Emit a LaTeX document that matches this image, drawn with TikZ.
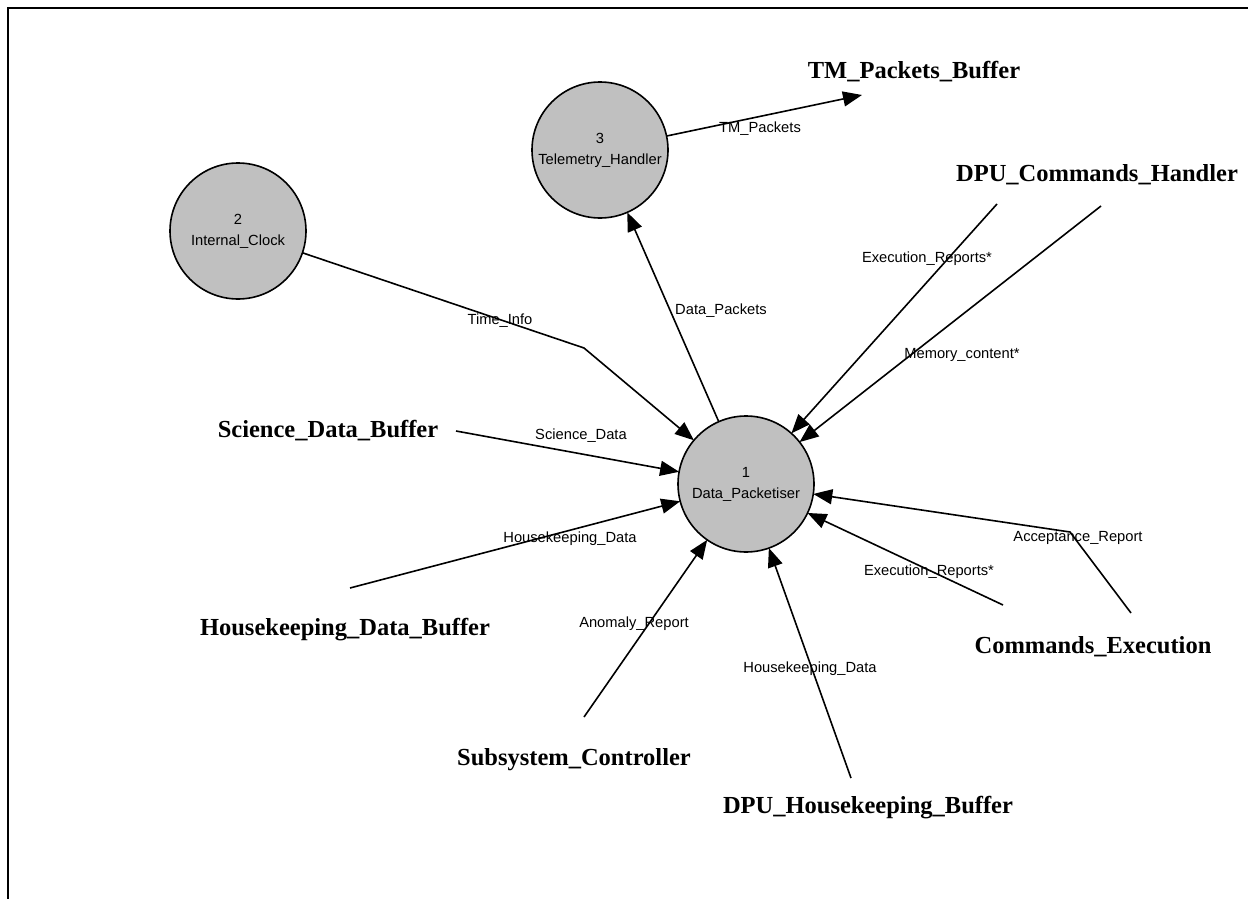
\documentclass[tikz,border=0pt]{standalone}
\usepackage{fontspec}
\setmainfont{Liberation Serif}
\newfontfamily\arialf{Liberation Sans}
\usetikzlibrary{arrows.meta}
\definecolor{procgray}{RGB}{192,192,192}
\begin{document}
\begin{tikzpicture}[x=1pt,y=-1pt,
 proc/.style={circle,draw,fill=procgray,line width=1.6pt,minimum size=136pt,inner sep=0pt,outer sep=0pt,align=center,font=\arialf\fontsize{14.7}{21}\selectfont},
 ent/.style={anchor=base,inner sep=0pt,font=\bfseries\fontsize{24.5}{28}\selectfont},
 lbl/.style={anchor=base,inner sep=0pt,font=\arialf\fontsize{14.7}{17}\selectfont},
 flow/.style={line width=1.6pt,-{Triangle[length=19pt,width=15pt]}}]
\useasboundingbox (0,0) rectangle (1248,899);
\draw[line width=2pt] (8,899) -- (8,8) -- (1248,8);

% processes
\node[proc] (dp) at (746,484) {1\\Data\_Packetiser};
\node[proc] (ic) at (238,231) {2\\Internal\_Clock};
\node[proc] (th) at (600,150) {3\\Telemetry\_Handler};

% external entities
\node[ent] (tmb) at (914,79) {TM\_Packets\_Buffer};
\node[ent] (dch) at (1097,181) {DPU\_Commands\_Handler};
\node[ent] (sdb) at (328,437) {Science\_Data\_Buffer};
\node[ent] (hdb) at (345,635) {Housekeeping\_Data\_Buffer};
\node[ent] (ce) at (1093,653) {Commands\_Execution};
\node[ent] (sc) at (574,765) {Subsystem\_Controller};
\node[ent] (dhb) at (868,813) {DPU\_Housekeeping\_Buffer};

% connector ends and bends
\coordinate (tmbE) at (862,95);
\coordinate (tiB) at (584,348);
\coordinate (dch1) at (997,204);
\coordinate (dch2) at (1101,206);
\coordinate (sdbS) at (456,431);
\coordinate (hdbS) at (350,588);
\coordinate (scS) at (584,717);
\coordinate (dhbS) at (851,778);
\coordinate (ce1) at (1003,605);
\coordinate (ce2) at (1131,613);
\coordinate (ceB) at (1070,532);

% flows
\draw[flow] (th) -- (tmbE);
\draw[flow] (dp) -- (th);
\draw[flow] (ic) -- (tiB) -- (dp);
\draw[flow] (dch1) -- (dp);
\draw[flow] (dch2) -- (dp);
\draw[flow] (sdbS) -- (dp);
\draw[flow] (hdbS) -- (dp);
\draw[flow] (scS) -- (dp);
\draw[flow] (dhbS) -- (dp);
\draw[flow] (ce1) -- (dp);
\draw[flow] (ce2) -- (ceB) -- (dp);

% flow labels
\node[lbl] (l1) at (760,132) {TM\_Packets};
\node[lbl] (l2) at (721,314) {Data\_Packets};
\node[lbl] (l3) at (500,324) {Time\_Info};
\node[lbl] (l4) at (927,262) {Execution\_Reports*};
\node[lbl] (l5) at (962,358) {Memory\_content*};
\node[lbl] (l6) at (581,439) {Science\_Data};
\node[lbl] (l7) at (570,542) {Housekeeping\_Data};
\node[lbl] (l8) at (634,627) {Anomaly\_Report};
\node[lbl] (l9) at (810,672) {Housekeeping\_Data};
\node[lbl] (l10) at (929,575) {Execution\_Reports*};
\node[lbl] (l11) at (1078,541) {Acceptance\_Report};
\end{tikzpicture}
\end{document}
